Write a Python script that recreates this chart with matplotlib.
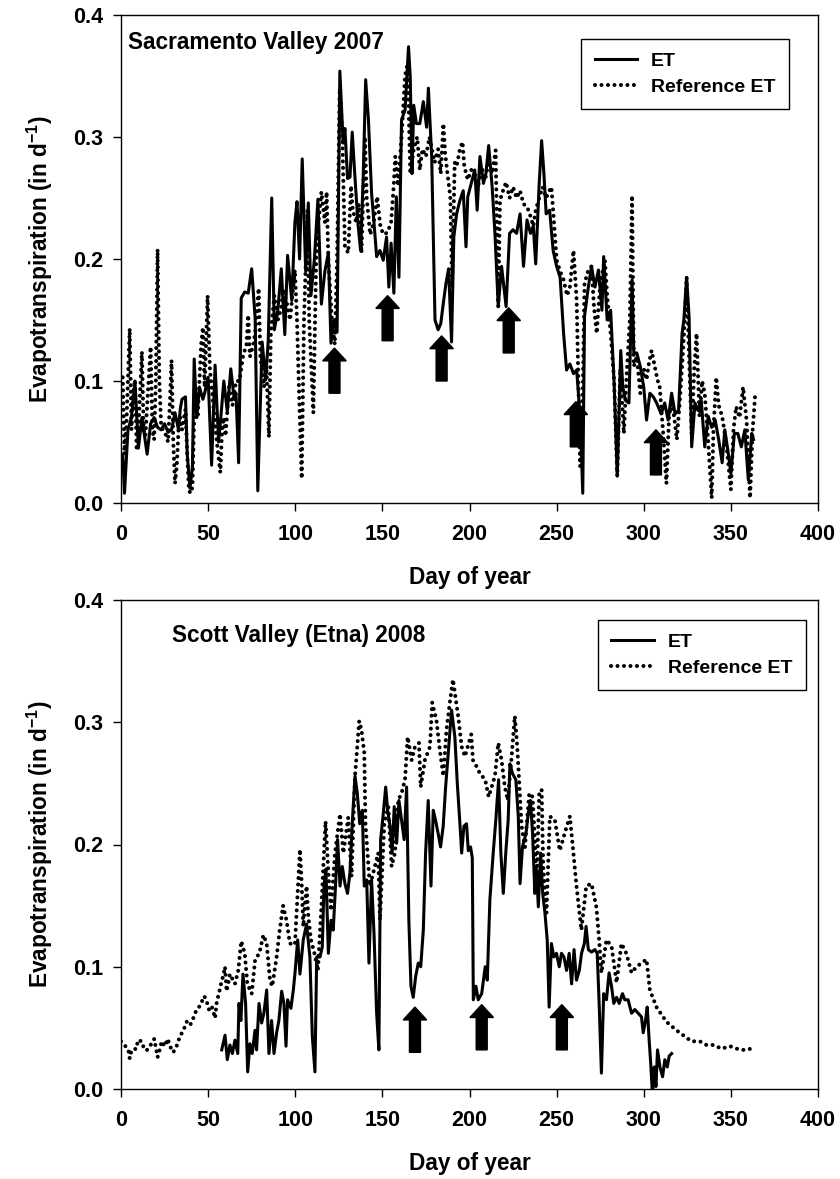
import numpy as np
import matplotlib
matplotlib.use("Agg")
import matplotlib.pyplot as plt
from matplotlib.patches import FancyArrow

plt.rcParams['font.family'] = ['Liberation Sans', 'DejaVu Sans']
plt.rcParams['font.weight'] = 'bold'
plt.rcParams['mathtext.fontset'] = 'custom'
plt.rcParams['mathtext.rm'] = 'Liberation Sans:bold'
plt.rcParams['mathtext.bf'] = 'Liberation Sans:bold'

"""Sacramento Valley 2007"""
sac_et_day = [1, 2, 4, 6, 8, 10, 12, 13, 15, 17,
              19, 21, 23, 25, 27, 29, 31, 33, 34, 35,
              37, 38, 39.6, 41, 42, 43.5, 45, 47, 48, 50,
              52, 54, 56, 57, 59, 61, 63, 65, 66, 67.5,
              69, 71, 73, 75, 77, 78.5, 81, 83, 84.5, 86.5,
              88, 90, 92, 94, 95.6, 98, 99.8, 101, 102.5, 104,
              106, 107.5, 109, 111, 113, 115, 117, 119, 120.5, 122,
              124, 125.6, 127.5, 128.5, 130, 131.4, 132.7, 134, 136, 137.5,
              139, 140.4, 142, 143.8, 145.4, 146.7, 148.6, 150.5, 152.4, 153.7,
              155, 156.6, 158, 159.5, 161, 163, 165, 166, 167, 168,
              169.5, 171.5, 173.5, 175.4, 176.4, 178.3, 180.2, 182, 183.5, 185,
              186.5, 188, 189.7, 191, 192.6, 194.5, 196.4, 198, 199, 201,
              203, 204.4, 206, 208, 209.4, 211, 213, 214.6, 216.5, 218.4,
              221, 223, 225, 227, 229, 231, 233, 235, 236.6, 238,
              240, 241.4, 242.7, 244, 246, 248, 250, 252, 254, 255.7,
              257.6, 259.7, 261.5, 263.5, 265, 266, 268, 270, 272, 274,
              276, 277, 279, 281, 283, 284.8, 286.8, 288, 289.5, 291.5,
              293.3, 294.3, 296, 298, 300, 301.6, 303.5, 305.5, 307.4, 310,
              312, 314, 316, 318, 320, 322, 323, 324.6, 326, 327.5,
              329.4, 331, 333, 335, 337, 339, 341, 343, 345, 346.5,
              348.5, 350, 352, 354, 356, 358, 360, 362, 363]
sac_et = [0.040, 0.008, 0.060, 0.070, 0.100, 0.045, 0.070, 0.060, 0.040, 0.065,
          0.070, 0.062, 0.060, 0.065, 0.058, 0.060, 0.074, 0.060, 0.077, 0.085,
          0.087, 0.040, 0.012, 0.030, 0.118, 0.070, 0.095, 0.085, 0.090, 0.103,
          0.031, 0.113, 0.050, 0.065, 0.100, 0.075, 0.110, 0.085, 0.090, 0.033,
          0.168, 0.173, 0.172, 0.192, 0.151, 0.010, 0.132, 0.101, 0.133, 0.250,
          0.142, 0.158, 0.192, 0.138, 0.203, 0.166, 0.230, 0.247, 0.200, 0.282,
          0.190, 0.246, 0.170, 0.200, 0.249, 0.163, 0.190, 0.205, 0.131, 0.150,
          0.140, 0.354, 0.295, 0.307, 0.266, 0.267, 0.304, 0.273, 0.229, 0.207,
          0.267, 0.347, 0.314, 0.254, 0.226, 0.202, 0.207, 0.199, 0.218, 0.177,
          0.213, 0.172, 0.251, 0.185, 0.314, 0.322, 0.374, 0.349, 0.270, 0.326,
          0.311, 0.311, 0.329, 0.308, 0.340, 0.284, 0.150, 0.142, 0.147, 0.164,
          0.180, 0.192, 0.132, 0.218, 0.237, 0.248, 0.256, 0.210, 0.251, 0.262,
          0.273, 0.240, 0.284, 0.262, 0.270, 0.293, 0.259, 0.221, 0.161, 0.194,
          0.161, 0.221, 0.224, 0.221, 0.237, 0.194, 0.232, 0.221, 0.227, 0.196,
          0.262, 0.297, 0.270, 0.237, 0.240, 0.207, 0.194, 0.185, 0.139, 0.109,
          0.114, 0.106, 0.109, 0.071, 0.008, 0.153, 0.175, 0.194, 0.177, 0.191,
          0.158, 0.202, 0.150, 0.158, 0.098, 0.022, 0.125, 0.095, 0.084, 0.082,
          0.183, 0.123, 0.123, 0.112, 0.095, 0.068, 0.090, 0.087, 0.082, 0.073,
          0.082, 0.068, 0.090, 0.073, 0.076, 0.139, 0.150, 0.185, 0.153, 0.046,
          0.082, 0.076, 0.084, 0.046, 0.071, 0.062, 0.068, 0.052, 0.033, 0.060,
          0.041, 0.024, 0.057, 0.057, 0.046, 0.060, 0.019, 0.057, 0.052]

sac_ref_day = [1, 2, 3, 5, 6, 7, 8, 9, 10, 12,
               13, 14, 15, 17, 18, 19, 20, 21, 22, 23,
               24, 25, 26, 27, 28, 29, 30, 31, 32, 33,
               34, 35, 37, 38, 39, 40, 41, 42, 43, 44,
               45, 46, 47, 48, 49.7, 51, 53, 55, 57, 58,
               59, 60, 62, 64, 66, 68, 70, 72, 73, 74,
               76, 77, 79, 80, 82, 83.5, 84.9, 86, 88, 90,
               92, 93, 95, 97, 99.8, 101, 102, 103.7, 105, 107,
               108, 110.4, 112, 113, 115, 117, 118, 119, 121, 122.7,
               124, 125.5, 127, 128.5, 130.4, 132, 133, 135, 136.5, 138,
               140, 141, 143, 145, 147, 149, 151, 153, 155, 156.5,
               157.4, 159, 161, 163, 164.5, 166, 168, 170, 171.5, 173,
               175, 177, 180, 182, 183.5, 185, 186, 188, 189, 190,
               191.5, 192.6, 194.5, 196, 197, 199, 201, 203, 205, 207,
               209, 211, 213, 215, 216.5, 217.5, 219, 221, 223, 225,
               227, 229, 231, 233, 235, 236.6, 238, 240, 242, 244,
               245.5, 247, 248.5, 250, 252, 254, 256, 257.6, 259.7, 261.5,
               263.5, 265, 266, 268, 270, 271.5, 273, 275, 277.7, 279,
               281, 283, 284.8, 286.5, 288.6, 290, 292, 293.3, 294.3, 296,
               298, 300, 301.6, 303, 304.5, 306.3, 308, 309, 311, 313,
               314.5, 316, 317.5, 319, 320.5, 322, 323.5, 324.6, 326, 327.5,
               329, 330.3, 332, 333.5, 335, 337, 339, 340, 341.6, 343,
               345, 346.5, 348, 350, 351.5, 353, 355, 357, 359, 361,
               362.5, 364]
sac_ref = [0.103, 0.040, 0.060, 0.143, 0.060, 0.090, 0.101, 0.043, 0.060, 0.124,
           0.060, 0.055, 0.080, 0.128, 0.060, 0.052, 0.100, 0.208, 0.100, 0.065,
           0.060, 0.058, 0.055, 0.050, 0.080, 0.117, 0.050, 0.016, 0.030, 0.060,
           0.070, 0.060, 0.077, 0.040, 0.010, 0.008, 0.013, 0.070, 0.090, 0.070,
           0.100, 0.130, 0.144, 0.095, 0.170, 0.110, 0.080, 0.050, 0.025, 0.060,
           0.070, 0.055, 0.095, 0.080, 0.100, 0.100, 0.120, 0.130, 0.154, 0.120,
           0.130, 0.140, 0.176, 0.120, 0.095, 0.110, 0.054, 0.140, 0.170, 0.150,
           0.160, 0.175, 0.165, 0.150, 0.191, 0.150, 0.100, 0.020, 0.150, 0.240,
           0.150, 0.074, 0.200, 0.225, 0.255, 0.230, 0.255, 0.200, 0.150, 0.130,
           0.200, 0.340, 0.300, 0.210, 0.205, 0.260, 0.240, 0.230, 0.245, 0.205,
           0.300, 0.250, 0.220, 0.230, 0.251, 0.225, 0.220, 0.222, 0.230, 0.260,
           0.284, 0.260, 0.300, 0.350, 0.360, 0.270, 0.290, 0.300, 0.273, 0.290,
           0.284, 0.300, 0.279, 0.290, 0.270, 0.311, 0.287, 0.262, 0.251, 0.177,
           0.279, 0.276, 0.290, 0.296, 0.276, 0.265, 0.273, 0.270, 0.260, 0.275,
           0.265, 0.280, 0.270, 0.289, 0.161, 0.248, 0.255, 0.263, 0.250, 0.259,
           0.250, 0.256, 0.245, 0.243, 0.235, 0.227, 0.240, 0.250, 0.259, 0.250,
           0.255, 0.259, 0.230, 0.199, 0.190, 0.183, 0.170, 0.177, 0.207, 0.166,
           0.030, 0.090, 0.180, 0.190, 0.194, 0.160, 0.139, 0.180, 0.199, 0.170,
           0.139, 0.100, 0.022, 0.110, 0.057, 0.100, 0.150, 0.252, 0.112, 0.120,
           0.090, 0.110, 0.101, 0.115, 0.125, 0.112, 0.100, 0.098, 0.060, 0.016,
           0.070, 0.084, 0.070, 0.052, 0.080, 0.112, 0.150, 0.185, 0.120, 0.057,
           0.110, 0.139, 0.071, 0.100, 0.090, 0.050, 0.004, 0.060, 0.103, 0.080,
           0.071, 0.057, 0.040, 0.011, 0.060, 0.079, 0.070, 0.095, 0.068, 0.004,
           0.060, 0.090]

sac_arrow_day = [122.5, 153, 184, 222.5, 261, 307]
sac_arrow_tip = [0.127, 0.170, 0.137, 0.160, 0.083, 0.060]

"""Scott Valley (Etna) 2008"""
scott_et_day = [57.8, 59.7, 61, 62.5, 63.9, 65.4, 67, 67.7, 68.8, 70,
                71.5, 72.7, 74, 75.3, 76.9, 77.8, 79.2, 80.7, 82, 83.6,
                84.9, 86.4, 87.8, 89.3, 90.6, 92.2, 93.5, 94.7, 95.6, 97.5,
                98.9, 99.8, 101.4, 102.7, 104.6, 106.5, 108.4, 109.8, 111.3, 112.3,
                114.2, 115.5, 116.5, 117.6, 119, 120.5, 121.8, 123.1, 124.3, 125.7,
                127, 128.5, 130, 131.4, 132.7, 134.3, 135.6, 137, 138.5, 139.6,
                141, 142.3, 143.8, 145.2, 146.7, 148, 149, 150.5, 151.9, 153,
                154.4, 155.6, 156.8, 158.2, 159.5, 161, 162.5, 163.9, 165.2, 166.4,
                167.7, 169.1, 170.6, 172, 173.5, 174.8, 176.3, 177.9, 179.2, 180.5,
                182, 183.4, 184.9, 186.3, 187.8, 189.7, 191.6, 193, 194.5, 195.5,
                196.8, 198.3, 199.3, 200.6, 201.6, 202.2, 203.7, 205, 207, 209,
                210.2, 211.7, 213.6, 215.1, 216.7, 218, 219.4, 220.9, 222.2, 223.2,
                224.7, 226.6, 228, 229, 230.4, 232.4, 233.7, 235, 236.2, 237.5,
                238.5, 239.5, 240.8, 242, 243.3, 244.6, 245.7, 247, 248.4, 249.9,
                251.5, 252.8, 254.2, 255.7, 257.2, 258.6, 260, 261.4, 263, 264.3,
                265.9, 266.9, 268.2, 270, 272, 273.3, 274.4, 275.7, 277, 278.6,
                280.1, 281.5, 282.8, 284.4, 285.9, 287.8, 289.1, 291, 293, 294.9,
                296.8, 298.7, 299.7, 301, 302, 303.1, 304, 305, 306, 307,
                307.9, 309.3, 310.8, 312.1, 313.5, 314.6, 316]
scott_et = [0.032, 0.044, 0.024, 0.036, 0.029, 0.040, 0.029, 0.070, 0.056, 0.094,
            0.070, 0.014, 0.037, 0.029, 0.048, 0.032, 0.070, 0.054, 0.062, 0.081,
            0.029, 0.056, 0.029, 0.046, 0.056, 0.080, 0.070, 0.035, 0.073, 0.066,
            0.081, 0.094, 0.122, 0.094, 0.122, 0.135, 0.108, 0.043, 0.014, 0.108,
            0.108, 0.116, 0.166, 0.180, 0.111, 0.138, 0.130, 0.166, 0.204, 0.166,
            0.182, 0.168, 0.160, 0.177, 0.217, 0.256, 0.242, 0.217, 0.228, 0.166,
            0.171, 0.103, 0.171, 0.127, 0.062, 0.032, 0.204, 0.225, 0.247, 0.228,
            0.215, 0.193, 0.231, 0.201, 0.236, 0.220, 0.204, 0.247, 0.138, 0.084,
            0.075, 0.092, 0.103, 0.100, 0.130, 0.193, 0.236, 0.166, 0.228, 0.220,
            0.209, 0.198, 0.215, 0.247, 0.275, 0.310, 0.288, 0.250, 0.217, 0.193,
            0.215, 0.217, 0.195, 0.198, 0.189, 0.073, 0.084, 0.073, 0.078, 0.100,
            0.089, 0.155, 0.193, 0.220, 0.253, 0.193, 0.160, 0.195, 0.220, 0.266,
            0.258, 0.253, 0.223, 0.168, 0.198, 0.209, 0.225, 0.236, 0.209, 0.160,
            0.179, 0.149, 0.193, 0.160, 0.144, 0.122, 0.067, 0.119, 0.108, 0.111,
            0.100, 0.111, 0.108, 0.097, 0.111, 0.086, 0.114, 0.089, 0.097, 0.111,
            0.119, 0.133, 0.114, 0.112, 0.114, 0.111, 0.070, 0.013, 0.078, 0.073,
            0.095, 0.084, 0.070, 0.075, 0.070, 0.078, 0.073, 0.073, 0.062, 0.065,
            0.062, 0.059, 0.046, 0.056, 0.067, 0.040, 0.021, -0.005, 0.018, 0.002,
            0.032, 0.018, 0.010, 0.024, 0.018, 0.027, 0.029]

scott_ref_day = [0, 2, 4.2, 5, 6.1, 9, 9.6, 11.9, 13.4, 15.1,
                 16.6, 19.1, 21, 22.4, 23.3, 25.2, 26.8, 28.1, 30, 31.9,
                 33.8, 35.8, 37.7, 39.6, 41.5, 43.4, 45.3, 47.8, 49.1, 50.5,
                 52, 54, 55, 56.2, 57.4, 58.7, 59.7, 60.6, 61.6, 62.5,
                 65.4, 67.3, 69, 71, 72.5, 75, 77, 79.4, 81.7, 83.6,
                 85.5, 86.8, 89.3, 91, 93, 95, 96.9, 99.8, 102.7, 103.6,
                 104.6, 106.5, 107.5, 109, 111, 113, 115, 117.4, 119, 120.5,
                 122.8, 125.7, 127.6, 130.4, 132.3, 134.3, 136.7, 138, 139.6, 140.3,
                 142.8, 144.8, 147.6, 148.6, 151.1, 153.4, 155.3, 157.2, 159.1, 161,
                 163, 164.5, 166.8, 168.7, 171, 172, 174.4, 177.3, 178.6, 181,
                 183, 185, 186.8, 188.7, 190.5, 193.5, 195.5, 197.4, 201, 202,
                 204, 206, 209, 211, 214.6, 216.5, 218.4, 220.3, 222, 224,
                 226, 227.4, 229.9, 231.8, 234.3, 236.2, 237.5, 238.5, 240, 241.4,
                 242.3, 244.2, 246.1, 249, 251.8, 254.6, 257.6, 259.5, 261.4, 264.2,
                 267, 270, 272.8, 274.4, 275.7, 278.6, 281.5, 284.4, 287.2, 290,
                 293, 295.8, 298.7, 301.6, 303.5, 307.3, 313, 318.8, 323.6, 327.4,
                 332.2, 336, 339.9, 344.7, 349.5, 353.3, 357.2, 362]
scott_ref = [0.039, 0.036, 0.032, 0.025, 0.032, 0.033, 0.040, 0.039, 0.032, 0.032,
             0.035, 0.041, 0.026, 0.033, 0.039, 0.035, 0.041, 0.035, 0.030, 0.035,
             0.043, 0.048, 0.055, 0.052, 0.058, 0.065, 0.068, 0.076, 0.072, 0.065,
             0.068, 0.058, 0.072, 0.078, 0.086, 0.093, 0.100, 0.080, 0.087, 0.094,
             0.086, 0.097, 0.121, 0.111, 0.086, 0.078, 0.106, 0.111, 0.126, 0.119,
             0.089, 0.084, 0.108, 0.129, 0.150, 0.138, 0.119, 0.118, 0.196, 0.171,
             0.133, 0.166, 0.141, 0.122, 0.111, 0.097, 0.149, 0.219, 0.177, 0.146,
             0.193, 0.225, 0.193, 0.222, 0.174, 0.256, 0.301, 0.294, 0.275, 0.217,
             0.166, 0.177, 0.193, 0.138, 0.217, 0.231, 0.182, 0.193, 0.236, 0.242,
             0.253, 0.288, 0.269, 0.280, 0.283, 0.247, 0.269, 0.280, 0.316, 0.302,
             0.277, 0.256, 0.294, 0.316, 0.335, 0.305, 0.280, 0.272, 0.290, 0.269,
             0.264, 0.258, 0.253, 0.239, 0.256, 0.283, 0.269, 0.247, 0.236, 0.269,
             0.305, 0.280, 0.215, 0.198, 0.242, 0.239, 0.204, 0.166, 0.242, 0.245,
             0.182, 0.144, 0.223, 0.220, 0.195, 0.209, 0.223, 0.195, 0.166, 0.130,
             0.166, 0.168, 0.149, 0.122, 0.095, 0.122, 0.117, 0.087, 0.119, 0.111,
             0.095, 0.100, 0.103, 0.106, 0.081, 0.067, 0.055, 0.048, 0.043, 0.039,
             0.039, 0.036, 0.036, 0.033, 0.035, 0.033, 0.032, 0.033]

scott_arrow_day = [168.7, 207, 253]
scott_arrow_tip = [0.067, 0.069, 0.069]

assert len(sac_et_day) == len(sac_et)
assert len(sac_ref_day) == len(sac_ref)
assert len(scott_et_day) == len(scott_et)
assert len(scott_ref_day) == len(scott_ref)

x_ticks = np.arange(0, 401, 50)
y_ticks = [0.0, 0.1, 0.2, 0.3, 0.4]


def draw_panel(ax, et_day, et, ref_day, ref, arrow_day, arrow_tip, title, title_xy, legend_xy):
    ax.plot(ref_day, ref, color='black', lw=2.9, linestyle=(0, (0.01, 1.6)),
            dash_capstyle='round', label='Reference ET')
    ax.plot(et_day, et, color='black', lw=2.2, label='ET')
    for d, tip in zip(arrow_day, arrow_tip):
        ax.add_patch(FancyArrow(d, tip - 0.037, 0, 0.037, width=6.3, head_width=13.5,
                                head_length=0.0105, length_includes_head=True,
                                color='black', zorder=5))
    ax.set_xlim(0, 400)
    ax.set_ylim(0, 0.4)
    ax.set_xticks(x_ticks)
    ax.set_yticks(y_ticks)
    ax.set_yticklabels([f'{v:.1f}' for v in y_ticks])
    ax.tick_params(direction='out', length=6, width=1, labelsize=15.5, pad=7)
    ax.tick_params(axis='x', pad=9)
    for s in ax.spines.values():
        s.set_linewidth(1.0)
    ax.set_xlabel('Day of year', fontsize=16.3, fontweight='bold', labelpad=15)
    ax.set_ylabel('Evapotranspiration (in d$^{\\mathbf{-1}}$)', fontsize=16.3,
                  fontweight='bold', labelpad=13)
    ax.text(title_xy[0], title_xy[1], title, transform=ax.transAxes, fontsize=16.3,
            fontweight='bold', ha='left', va='center')
    handles, labels = ax.get_legend_handles_labels()
    leg = ax.legend(handles[::-1], labels[::-1], loc='upper left', bbox_to_anchor=legend_xy,
                    borderaxespad=0, fancybox=False, framealpha=1, edgecolor='black',
                    prop={'size': 14, 'weight': 'bold'}, handlelength=2.2,
                    handletextpad=0.7, borderpad=0.7, labelspacing=0.4)
    leg.get_frame().set_linewidth(1.0)


fig = plt.figure(figsize=(8.4, 11.79), dpi=100)
ax1 = fig.add_axes([121 / 840, 1 - 503 / 1179, 697 / 840, 488 / 1179])
ax2 = fig.add_axes([121 / 840, 1 - 1089 / 1179, 697 / 840, 489 / 1179])

draw_panel(ax1, sac_et_day, sac_et, sac_ref_day, sac_ref, sac_arrow_day, sac_arrow_tip,
           'Sacramento Valley 2007', (0.010, 0.943), (0.660, 0.951))
draw_panel(ax2, scott_et_day, scott_et, scott_ref_day, scott_ref, scott_arrow_day,
           scott_arrow_tip, 'Scott Valley (Etna) 2008', (0.073, 0.928), (0.684, 0.959))

fig.savefig('out.png', dpi=100)
